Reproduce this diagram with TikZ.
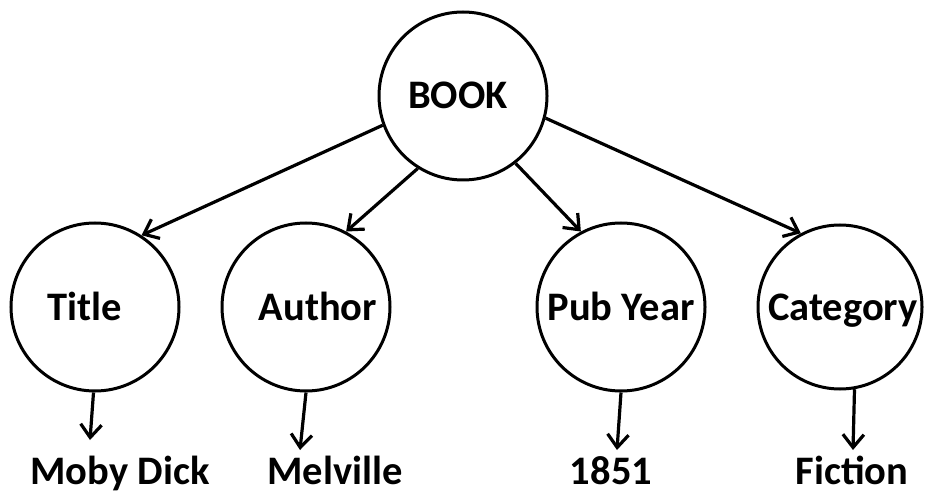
\documentclass[tikz,border=0pt]{standalone}
\usepackage{fontspec}
\setmainfont{Carlito}
\usetikzlibrary{arrows.meta}
\begin{document}
\begin{tikzpicture}[x=1pt,y=-1pt,
  ent/.style={circle,draw,line width=3pt,minimum size=168pt,inner sep=0pt,
    font=\fontsize{40.5}{42}\selectfont\bfseries,text height=26pt,text depth=0pt},
  val/.style={anchor=base,inner sep=0pt,font=\fontsize{40.5}{42}\selectfont\bfseries},
  arr/.style={line width=3.2pt,-{Straight Barb[length=13pt,width=21pt,line width=3.2pt]}}]
\useasboundingbox (0,0) rectangle (926,494);
\node[ent] (book) at (463,96) {BOOK\hspace*{10pt}};
\node[ent] (title) at (95,307) {Title\hspace*{20pt}};
\node[ent] (author) at (306,307) {\hspace*{24pt}Author};
\node[ent] (pub) at (621,307) {Pub Year};
\node[ent, minimum size=164pt] (cat) at (840,307) {\hspace*{6pt}Category};
\node[val] (v1) at (120,484) {Moby Dick};
\node[val] (v2) at (335,484) {Melville};
\node[val] (v3) at (611,484) {1851};
\node[val] (v4) at (852,484) {Fiction};
\coordinate (e1) at (90,440);
\coordinate (e2) at (300,450);
\coordinate (e3) at (617,450);
\coordinate (e4) at (853,450);
\draw[arr] (book.200) -- (title.57);
\draw[arr] (book.238) -- (author.62);
\draw[arr] (book.308) -- (pub.118);
\draw[arr] (book.345) -- (cat.118);
\draw[arr] (title.-91) -- (e1);
\draw[arr] (author.-90) -- (e2);
\draw[arr] (pub.-90) -- (e3);
\draw[arr] (cat.-80) -- (e4);
\end{tikzpicture}
\end{document}
